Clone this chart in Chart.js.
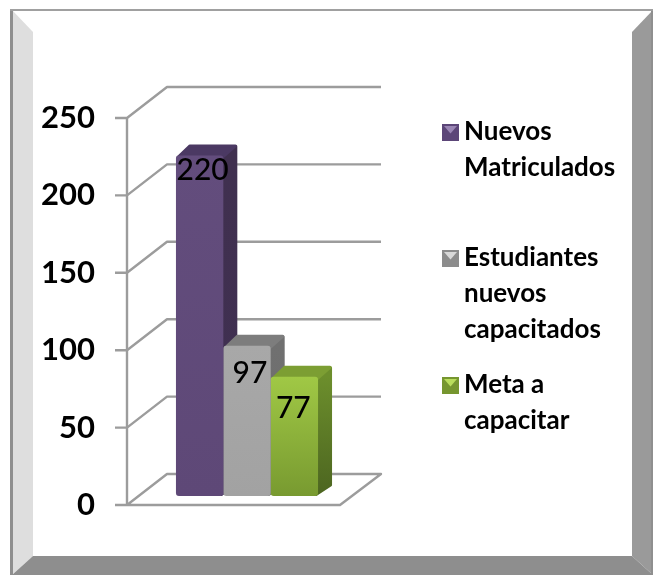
<!DOCTYPE html>
<html>
<head>
<meta charset="utf-8">
<style>
html,body{margin:0;padding:0;background:#fff;overflow:hidden}
#wrap{position:relative;width:653px;height:575px}
</style>
<script src="https://cdn.jsdelivr.net/npm/chart.js@4"></script>
</head>
<body>
<div id="wrap"><canvas id="c" width="653" height="575"></canvas></div>
<script>
const categories = ['Estudiantes'];
const seriesNames = ['Nuevos Matriculados', 'Estudiantes nuevos capacitados', 'Meta a capacitar'];
const nuevosMatriculados = [220];
const estudiantesCapacitados = [97];
const metaCapacitar = [77];
const tickValues = [0, 50, 100, 150, 200, 250];
const legendLines = [['Nuevos', 'Matriculados'], ['Estudiantes', 'nuevos', 'capacitados'], ['Meta a', 'capacitar']];

const palettes = [
  {top:'#634d7d', bottom:'#5e4877', sideTop:'#40304f', sideBottom:'#3f2f52', cap:'#4b3963', mark:'#5c4678', markLight:'#9a86b4'},
  {top:'#a8a8a8', bottom:'#a2a2a2', sideTop:'#707070', sideBottom:'#6c6c6c', cap:'#7d7d7d', mark:'#8c8c8c', markLight:'#d8d8d8'},
  {top:'#a0c845', bottom:'#789a30', sideTop:'#6c8e2c', sideBottom:'#4c6520', cap:'#7c9e33', mark:'#76962f', markLight:'#b9dd5c'}
];
const labelOffsets = [{x:3, y:15}, {x:3, y:28}, {x:-1, y:32}];
const FONT = 'Lato, "Open Sans", sans-serif';
const DEPTH = {dx:40, dy:-31};
const BAR_DEPTH = {dx:14, dy:-11};
const FLOOR_RIGHT = 340;
const BACK_RIGHT = 381;

function frontGradient(ctx, i) {
  const chart = ctx.chart;
  const s = chart.scales.yBars;
  if (!s || !chart.chartArea) return palettes[i].bottom;
  const v = chart.data.datasets[i].data[0];
  const g = chart.ctx.createLinearGradient(0, s.getPixelForValue(v), 0, s.getPixelForValue(0));
  g.addColorStop(0, palettes[i].top);
  g.addColorStop(1, palettes[i].bottom);
  return g;
}

const framePlugin = {
  id: 'frame',
  beforeDraw(chart) {
    const c = chart.ctx;
    const o = {l:12, t:10, r:653, b:575};
    const n = {l:33, t:32, r:632, b:556};
    const face = (pts, col) => {
      c.beginPath();
      pts.forEach((p, i) => i ? c.lineTo(p[0], p[1]) : c.moveTo(p[0], p[1]));
      c.closePath(); c.fillStyle = col; c.fill();
    };
    c.save();
    face([[o.l,o.t],[o.r,o.t],[n.r,n.t],[n.l,n.t]], '#ffffff');
    face([[o.l,o.t],[n.l,n.t],[n.l,n.b],[o.l,o.b]], '#dedede');
    face([[o.r,o.t],[o.r,o.b],[n.r,n.b],[n.r,n.t]], '#9a9a9a');
    face([[o.l,o.b],[n.l,n.b],[n.r,n.b],[o.r,o.b]], '#8e8e8e');
    c.fillStyle = '#8f8f8f';
    c.fillRect(10, 9, 3, 566);
    c.fillRect(651, 10, 2, 565);
    c.fillStyle = '#a0a0a0';
    c.fillRect(10, 9, 643, 2);
    c.restore();
  }
};

const depthPlugin = {
  id: 'depth',
  beforeDatasetsDraw(chart) {
    const c = chart.ctx;
    const y = chart.scales.y;
    const x0 = chart.chartArea.left;
    c.save();
    c.strokeStyle = '#9c9c9c'; c.lineWidth = 2.4; c.lineJoin = 'round';
    const y0 = y.getPixelForValue(0);
    const yTop = y.getPixelForValue(tickValues[tickValues.length - 1]);
    c.beginPath();
    c.moveTo(x0, yTop); c.lineTo(x0, y0);
    c.stroke();
    tickValues.forEach(v => {
      const py = y.getPixelForValue(v);
      c.beginPath();
      c.moveTo(x0 - 12, py); c.lineTo(x0, py);
      c.lineTo(x0 + DEPTH.dx, py + DEPTH.dy);
      c.lineTo(BACK_RIGHT, py + DEPTH.dy);
      if (v === 0) {
        c.lineTo(FLOOR_RIGHT, py); c.lineTo(x0, py);
      }
      c.stroke();
    });
    chart.data.datasets.forEach((ds, i) => {
      const el = chart.getDatasetMeta(i).data[0];
      const left = el.x - el.width / 2, right = el.x + el.width / 2;
      const top = el.y, bottom = el.base;
      const d = BAR_DEPTH;
      c.lineJoin = 'round'; c.lineWidth = 3;
      c.beginPath();
      c.moveTo(right - 2, top + 1); c.lineTo(right + d.dx - 1.5, top + d.dy + 2);
      c.lineTo(right + d.dx - 1.5, bottom + d.dy); c.lineTo(right - 2, bottom - 1.5);
      c.closePath();
      const g = c.createLinearGradient(0, top, 0, bottom);
      g.addColorStop(0, palettes[i].sideTop);
      g.addColorStop(1, palettes[i].sideBottom);
      c.fillStyle = g; c.strokeStyle = g; c.fill(); c.stroke();
      c.beginPath();
      c.moveTo(left + 2, top + 2); c.lineTo(left + d.dx, top + d.dy + 1.5);
      c.lineTo(right + d.dx - 2, top + d.dy + 1.5); c.lineTo(right - 1, top + 2);
      c.closePath();
      c.fillStyle = palettes[i].cap; c.strokeStyle = palettes[i].cap; c.fill(); c.stroke();
    });
    c.restore();
  },
  afterDatasetsDraw(chart) {
    const c = chart.ctx;
    c.save();
    c.font = '500 30px ' + FONT;
    c.fillStyle = '#000';
    c.textAlign = 'center'; c.textBaseline = 'middle';
    chart.data.datasets.forEach((ds, i) => {
      const el = chart.getDatasetMeta(i).data[0];
      c.fillText(String(ds.data[0]), el.x + labelOffsets[i].x, el.y + labelOffsets[i].y);
    });
    c.restore();
  }
};

const legendPlugin = {
  id: 'sideLegend',
  afterDraw(chart) {
    const c = chart.ctx;
    const starts = [132, 258, 385];
    const gaps = [36, 36, 36];
    c.save();
    c.font = 'bold 26px ' + FONT;
    c.textAlign = 'left'; c.textBaseline = 'middle';
    legendLines.forEach((lines, i) => {
      const m = {x:442, y:starts[i] - 8, s:17};
      c.fillStyle = palettes[i].mark;
      c.fillRect(m.x, m.y, m.s, m.s);
      c.beginPath();
      c.moveTo(m.x + 2, m.y + 2); c.lineTo(m.x + m.s - 2, m.y + 2); c.lineTo(m.x + m.s / 2, m.y + m.s / 2 + 1);
      c.closePath();
      c.fillStyle = palettes[i].markLight; c.fill();
      c.fillStyle = '#000';
      lines.forEach((t, k) => c.fillText(t, 464, starts[i] + k * gaps[i]));
    });
    c.restore();
  }
};

new Chart(document.getElementById('c'), {
  type: 'bar',
  data: {
    labels: categories,
    datasets: [nuevosMatriculados, estudiantesCapacitados, metaCapacitar].map((data, i) => ({
      label: seriesNames[i],
      data,
      yAxisID: 'yBars',
      backgroundColor: ctx => frontGradient(ctx, i),
      borderWidth: 0,
      borderRadius: 3,
      borderSkipped: false,
      categoryPercentage: 0.592,
      barPercentage: 1
    }))
  },
  options: {
    responsive: false,
    animation: false,
    layout: {padding: {top: 87, bottom: 70, right: 286, left: 0}},
    plugins: {legend: {display: false}, tooltip: {enabled: false}},
    scales: {
      x: {display: false},
      y: {
        position: 'left',
        min: 0, max: 270,
        afterBuildTicks(s) { s.ticks = tickValues.map(v => ({value: v})); },
        afterFit(s) { s.width = 127; },
        border: {display: false},
        grid: {display: false},
        ticks: {color: '#000', padding: 24, font: {family: FONT, size: 31, weight: 'bold'}}
      },
      yBars: {display: false, min: -5.83, max: 264.17}
    }
  },
  plugins: [framePlugin, depthPlugin, legendPlugin]
});
</script>
</body>
</html>
